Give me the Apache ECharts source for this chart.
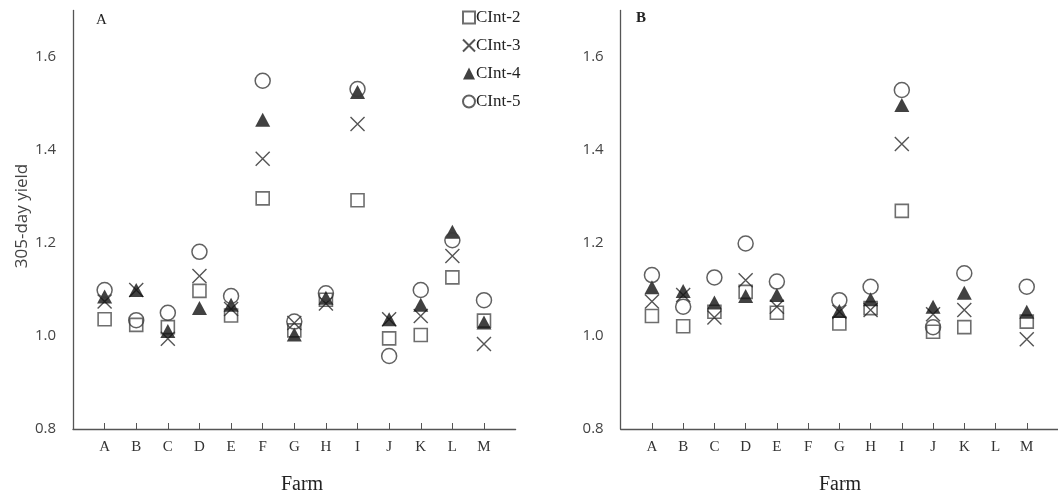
<!DOCTYPE html>
<html>
<head>
<meta charset="utf-8">
<script src="https://cdn.jsdelivr.net/npm/echarts@6/dist/echarts.min.js"></script>
<style>
  html, body { margin: 0; padding: 0; background: #fff; }
  #main { width: 1058px; height: 499px; }
</style>
</head>
<body>
<div id="main"></div>
<script>
const farms = ['A', 'B', 'C', 'D', 'E', 'F', 'G', 'H', 'I', 'J', 'K', 'L', 'M'];
const farmPos = [1, 2, 3, 4, 5, 6, 7, 8, 9, 10, 11, 12, 13];
const yTicks = [0.8, 1.0, 1.2, 1.4, 1.6];
const seriesNames = ['CInt-2', 'CInt-3', 'CInt-4', 'CInt-5'];

// panel A
const aCInt2 = [1.036, 1.024, 1.019, 1.097, 1.044, 1.296, 1.012, 1.078, 1.292, 0.995, 1.002, 1.126, 1.033];
const aCInt3 = [1.074, 1.099, 0.994, 1.129, 1.058, 1.381, 1.028, 1.070, 1.456, 1.036, 1.043, 1.172, 0.983];
const aCInt4 = [1.085, 1.099, 1.011, 1.060, 1.067, 1.465, 1.003, 1.082, 1.525, 1.036, 1.067, 1.224, 1.029];
const aCInt5 = [1.099, 1.034, 1.050, 1.181, 1.086, 1.549, 1.031, 1.092, 1.531, 0.957, 1.099, 1.206, 1.077];

// panel B (no data for F and L)
const bCInt2 = [1.043, 1.021, 1.052, 1.095, 1.050, null, 1.027, 1.060, 1.269, 1.009, 1.019, null, 1.031];
const bCInt3 = [1.074, 1.088, 1.040, 1.120, 1.063, null, 1.052, 1.056, 1.413, 1.047, 1.056, null, 0.993];
const bCInt4 = [1.105, 1.097, 1.072, 1.086, 1.088, null, 1.054, 1.079, 1.497, 1.063, 1.093, null, 1.052];
const bCInt5 = [1.131, 1.063, 1.126, 1.199, 1.117, null, 1.077, 1.106, 1.529, 1.019, 1.135, null, 1.106];

const axisColor = '#555';
const serif = '"Liberation Serif", "Times New Roman", serif';
const sans = '"Open Sans", "DejaVu Sans", sans-serif';

const markers = [
  { symbol: 'rect', symbolSize: 13, itemStyle: { color: 'rgba(0,0,0,0)', borderColor: '#4a4a4a', borderWidth: 1.6 } },
  { symbol: 'path://M0,0L10,10M10,0L0,10', symbolSize: 14, itemStyle: { color: 'rgba(0,0,0,0)', borderColor: '#2a2a2a', borderWidth: 1.4 } },
  { symbol: 'triangle', symbolSize: [15, 14], itemStyle: { color: '#111', borderWidth: 0 } },
  { symbol: 'circle', symbolSize: 15, itemStyle: { color: 'rgba(0,0,0,0)', borderColor: '#3a3a3a', borderWidth: 1.5 } }
];

function toPoints(vals) {
  return vals.map((v, i) => v == null ? null : [farmPos[i], v]).filter(p => p);
}

function makeSeries(panel, lists) {
  return lists.map((vals, k) => ({
    name: seriesNames[k],
    type: 'scatter',
    xAxisIndex: panel,
    yAxisIndex: panel,
    symbol: markers[k].symbol,
    symbolSize: markers[k].symbolSize,
    itemStyle: markers[k].itemStyle,
    emphasis: { disabled: true },
    data: toPoints(vals)
  }));
}

function xAxis(grid) {
  return {
    type: 'value', gridIndex: grid, min: 0, max: 14,
    axisLine: { lineStyle: { color: axisColor, width: 1.3 } },
    axisTick: { show: true, inside: true, length: 6, customValues: farmPos, lineStyle: { color: axisColor } },
    axisLabel: {
      customValues: farmPos,
      formatter: v => farms[v - 1] || '',
      fontFamily: serif, fontSize: 15, color: '#333', margin: 11
    },
    splitLine: { show: false }
  };
}

function yAxis(grid) {
  return {
    type: 'value', gridIndex: grid, min: 0.8, max: 1.7,
    axisLine: { show: true, lineStyle: { color: axisColor, width: 1.3 } },
    axisTick: { show: false },
    axisLabel: {
      customValues: yTicks,
      formatter: v => v.toFixed(1),
      fontFamily: sans, fontSize: 15, color: '#444', margin: 17
    },
    splitLine: { show: false }
  };
}

const chart = echarts.init(document.getElementById('main'));
chart.setOption({
  animation: false,
  backgroundColor: '#fff',
  grid: [
    { left: 73, top: 10.5, width: 442.6, height: 418.5 },
    { left: 620.7, top: 10.5, width: 445, height: 418.5 }
  ],
  xAxis: [xAxis(0), xAxis(1)],
  yAxis: [yAxis(0), yAxis(1)],
  legend: {
    orient: 'vertical', left: 457, top: 4, padding: 5,
    itemWidth: 12, itemHeight: 12, itemGap: 11,
    selectedMode: false,
    data: seriesNames,
    textStyle: { fontFamily: serif, fontSize: 17, color: '#222', padding: [0, 0, 0, -4] }
  },
  graphic: [
    { type: 'text', left: 96, top: 13, style: { text: 'A', font: '15px ' + serif, fill: '#222' } },
    { type: 'text', left: 636, top: 11, style: { text: 'B', font: 'bold 15px ' + serif, fill: '#222' } },
    { type: 'text', x: 302, y: 485, style: { text: 'Farm', font: '20px ' + serif, fill: '#222', align: 'center', verticalAlign: 'middle' } },
    { type: 'text', x: 840, y: 485, style: { text: 'Farm', font: '20px ' + serif, fill: '#222', align: 'center', verticalAlign: 'middle' } },
    { type: 'text', x: 22, y: 216, rotation: Math.PI / 2, style: { text: '305-day yield', font: '17px ' + sans, fill: '#444', align: 'center', verticalAlign: 'middle' } }
  ],
  series: makeSeries(0, [aCInt2, aCInt3, aCInt4, aCInt5]).concat(makeSeries(1, [bCInt2, bCInt3, bCInt4, bCInt5]))
});
</script>
</body>
</html>
